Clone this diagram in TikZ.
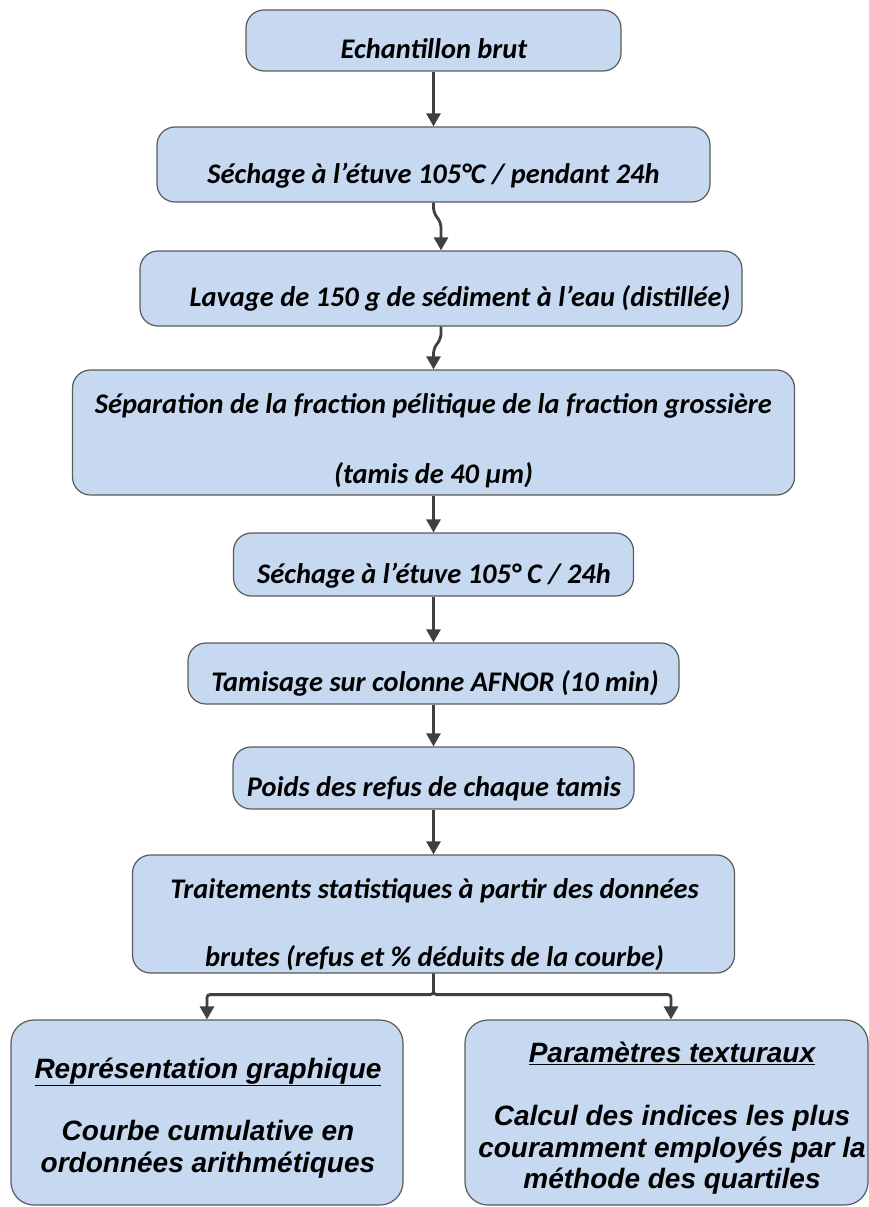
\documentclass[tikz,border=0pt]{standalone}
\usepackage{fontspec}
\setmainfont{Carlito}
\newfontfamily\arialfont{Liberation Sans}
\usetikzlibrary{arrows.meta}
\definecolor{boxfill}{RGB}{198,217,240}
\definecolor{boxline}{RGB}{90,90,90}
\definecolor{arrowc}{RGB}{64,64,64}
\tikzset{
  box/.style={draw=boxline, fill=boxfill, line width=1.2pt, rounded corners=18pt, inner sep=0pt},
  bigbox/.style={box, rounded corners=23pt},
  conn/.style={draw=arrowc, line width=2.8pt, -{Triangle[length=13pt,width=14pt]}},
  ctext/.style={font=\fontsize{28.4}{34}\selectfont\bfseries\itshape, anchor=mid, inner sep=0pt, yshift=-6pt},
  atext/.style={font=\arialfont\fontsize{28}{32}\selectfont\bfseries\itshape, anchor=mid, inner sep=0pt, yshift=-8pt},
}
\begin{document}
\begin{tikzpicture}[x=1pt,y=-1pt]
\useasboundingbox (0,0) rectangle (869,1207);
% boxes
\node[box, minimum width=375pt, minimum height=61pt] (b1) at (433.5,40.5) {};
\node[box, minimum width=553pt, minimum height=75pt] (b2) at (433.5,164.5) {};
\node[box, minimum width=602pt, minimum height=75pt] (b3) at (441,288.5) {};
\node[box, minimum width=722pt, minimum height=125pt] (b4) at (433.5,432.5) {};
\node[box, minimum width=400pt, minimum height=63pt] (b5) at (433.5,564.5) {};
\node[box, minimum width=491pt, minimum height=61pt] (b6) at (433.5,673.5) {};
\node[box, minimum width=401pt, minimum height=62pt] (b7) at (433.5,778) {};
\node[box, minimum width=602pt, minimum height=118pt] (b8) at (433.5,914) {};
\node[bigbox, minimum width=392pt, minimum height=185pt] (b9) at (207,1112.5) {};
\node[bigbox, minimum width=403pt, minimum height=185pt] (b10) at (666.5,1112.5) {};
% texts
\node[ctext] (t1) at (434,50) {Echantillon brut};
\node[ctext] (t2) at (433.5,175) {Séchage à l’étuve 105°C / pendant 24h};
\node[ctext] (t3) at (460,298) {Lavage de 150 g de sédiment à l’eau (distillée)};
\node[ctext] (t4a) at (433.5,405) {Séparation de la fraction pélitique de la fraction grossière};
\node[ctext] (t4b) at (433.5,475) {(tamis de 40 µm)};
\node[ctext] (t5) at (434,575) {Séchage à l’étuve 105° C / 24h};
\node[ctext] (t6) at (435,683) {Tamisage sur colonne AFNOR (10 min)};
\node[ctext] (t7) at (434,788) {Poids des refus de chaque tamis};
\node[ctext] (t8a) at (434.5,890) {Traitements statistiques à partir des données};
\node[ctext] (t8b) at (434.5,958) {brutes (refus et \% déduits de la courbe)};
\node[atext] (t9a) at (208,1068) {\underline{Représentation graphique}};
\node[atext] (t9b) at (208,1130) {Courbe cumulative en};
\node[atext] (t9c) at (208,1162) {ordonnées arithmétiques};
\node[atext] (t10a) at (672,1052) {\underline{Paramètres texturaux}};
\node[atext] (t10b) at (672,1115) {Calcul des indices les plus};
\node[atext] (t10c) at (672,1147) {couramment employés par la};
\node[atext] (t10d) at (672,1178) {méthode des quartiles};
% connectors
\draw[conn] (b1.south) -- (b2.north);
\draw[conn, rounded corners=5pt] (b2.south) -- ++(0,10) -- ++(7.5,10) -- (b3.north);
\draw[conn, rounded corners=5pt] (b3.south) -- ++(0,12) -- ++(-7.5,10) -- (b4.north);
\draw[conn] (b4.south) -- (b5.north);
\draw[conn] (b5.south) -- (b6.north);
\draw[conn] (b6.south) -- (b7.north);
\draw[conn] (b7.south) -- (b8.north);
\draw[conn, rounded corners=3pt] (b8.south) -- ++(0,21) -| (b9.north);
\draw[conn, rounded corners=3pt] (b8.south) -- ++(0,21) -| ([xshift=4.5pt]b10.north);
\end{tikzpicture}
\end{document}
